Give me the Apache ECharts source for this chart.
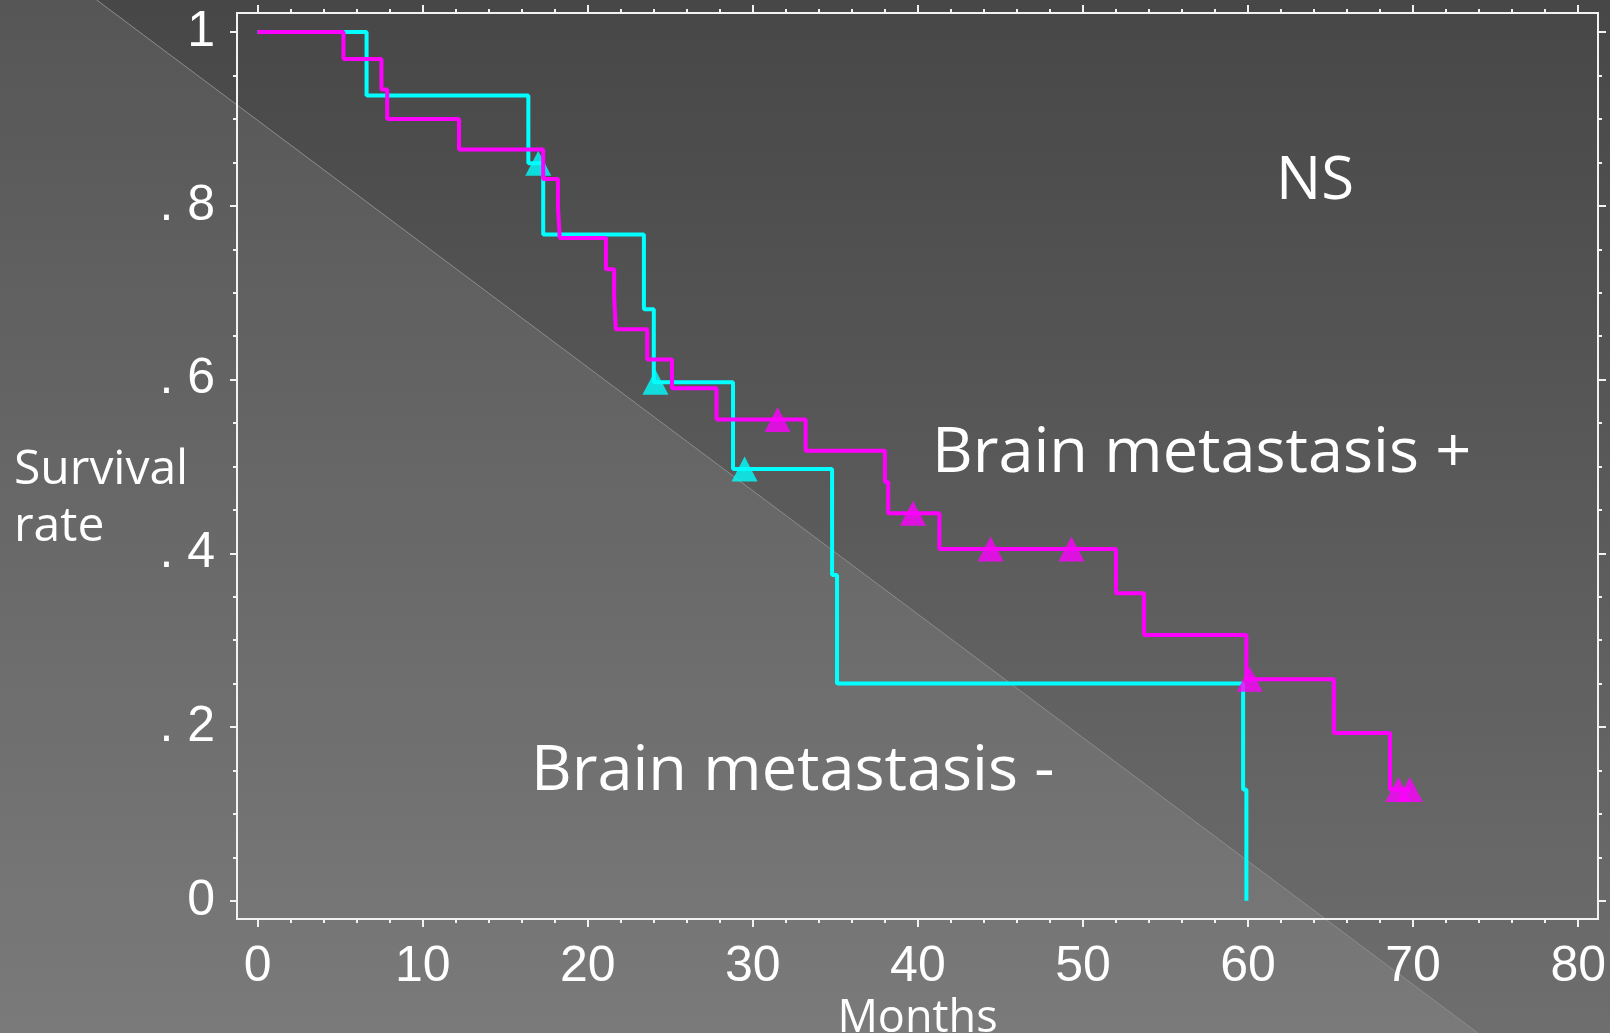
<!DOCTYPE html>
<html>
<head>
<meta charset="utf-8">
<script src="https://cdn.jsdelivr.net/npm/echarts@6/dist/echarts.min.js"></script>
<style>
    html, body { margin: 0; padding: 0; background: #5a5a5a; }
    #chart { width: 1610px; height: 1033px; }
</style>
</head>
<body>
<div id="chart"></div>
<script>
// Brain metastasis - (cyan)
const cyanMonths = [0, 6.6, 16.4, 17.3, 23.4, 24.0, 28.8, 34.8, 35.1, 59.7, 59.9];
const cyanSurvival = [1.0, 0.927, 0.849, 0.767, 0.681, 0.597, 0.497, 0.375, 0.25, 0.128, 0.0];
const cyanCensorMonths = [17.0, 24.1, 29.5];
const cyanCensorSurvival = [0.849, 0.597, 0.497];

// Brain metastasis + (magenta)
const magentaMonths = [0, 5.2, 7.5, 7.85, 12.2, 17.3, 18.2, 18.3, 21.1, 21.6, 21.7, 23.6, 25.1, 27.8, 33.2, 38.0, 38.2, 41.3, 52.0, 53.7, 59.9, 65.2, 68.6, 69.8];
const magentaSurvival = [1.0, 0.969, 0.934, 0.9, 0.865, 0.831, 0.797, 0.763, 0.727, 0.693, 0.658, 0.623, 0.59, 0.554, 0.518, 0.482, 0.446, 0.405, 0.354, 0.306, 0.255, 0.193, 0.128, 0.128];
const magentaCensorMonths = [31.5, 39.7, 44.4, 49.3, 60.1, 69.1, 69.8];
const magentaCensorSurvival = [0.554, 0.446, 0.405, 0.405, 0.255, 0.128, 0.128];

// axes
const xTickValues = [0, 10, 20, 30, 40, 50, 60, 70, 80];
const xMinorValues = [0, 2, 4, 6, 8, 10, 12, 14, 16, 18, 20, 22, 24, 26, 28, 30, 32, 34, 36, 38, 40,
    42, 44, 46, 48, 50, 52, 54, 56, 58, 60, 62, 64, 66, 68, 70, 72, 74, 76, 78, 80];
const yTickValues = [0, 0.2, 0.4, 0.6, 0.8, 1];
const yTickLabels = ['0', '. 2', '. 4', '. 6', '. 8', '1'];
const yMinorValues = [0, 0.05, 0.1, 0.15, 0.2, 0.25, 0.3, 0.35, 0.4, 0.45, 0.5, 0.55, 0.6, 0.65, 0.7, 0.75, 0.8, 0.85, 0.9, 0.95, 1];

const zip = (a, b) => a.map((v, i) => [v, b[i]]);

// condensed face for the tick numbers (font-stretch keyword goes into the font shorthand)
const tickFont = "'Liberation Sans Narrow', 'Liberation Sans', 'DejaVu Sans', sans-serif";
const textFont = "'Open Sans', Lato, sans-serif";
const axisColor = '#f2f2f2';

function xAxisDef(pos, values, len, withLabels) {
    return {
        type: 'value',
        position: pos,
        min: -1.25,
        max: 81.2,
        splitLine: {show: false},
        axisLine: {show: true, onZero: false, lineStyle: {color: axisColor, width: 2}},
        axisTick: {show: true, length: len, customValues: values, lineStyle: {color: axisColor, width: 2}},
        axisLabel: withLabels ? {
            show: true,
            customValues: xTickValues,
            margin: 23,
            color: '#ffffff',
            fontSize: 50,
            fontStyle: 'condensed',
            fontFamily: tickFont
        } : {show: false},
        name: withLabels ? 'Months' : '',
        nameLocation: 'middle',
        nameGap: 75,
        nameTextStyle: {color: '#ffffff', fontSize: 45, fontFamily: textFont}
    };
}

function yAxisDef(pos, values, len, withLabels) {
    return {
        type: 'value',
        position: pos,
        min: -0.021,
        max: 1.022,
        splitLine: {show: false},
        axisLine: {show: true, onZero: false, lineStyle: {color: axisColor, width: 2}},
        axisTick: {show: true, length: len, customValues: values, lineStyle: {color: axisColor, width: 2}},
        axisLabel: withLabels ? {
            show: true,
            customValues: yTickValues,
            margin: 22,
            color: '#ffffff',
            fontSize: 50,
            fontStyle: 'condensed',
            fontFamily: tickFont,
            formatter: function (v) {
                let best = 0;
                yTickValues.forEach((t, i) => {
                    if (Math.abs(t - v) < Math.abs(yTickValues[best] - v)) best = i;
                });
                return yTickLabels[best];
            }
        } : {show: false}
    };
}

const chart = echarts.init(document.getElementById('chart'));
chart.setOption({
    animation: false,
    grid: {left: 237, top: 13, right: 12, bottom: 114, containLabel: false, outerBoundsMode: 'none'},
    graphic: [
        {
            type: 'rect', z: -20, silent: true,
            shape: {x: 0, y: 0, width: 1610, height: 1033},
            style: {fill: new echarts.graphic.LinearGradient(0, 0, 0, 1, [
                {offset: 0, color: '#565656'}, {offset: 1, color: '#7a7a7a'}])}
        },
        {
            type: 'polygon', z: -19, silent: true,
            shape: {points: [[96.7, 0], [1610, 0], [1610, 1033], [1477.8, 1033]]},
            style: {fill: new echarts.graphic.LinearGradient(0, 0, 0, 1, [
                {offset: 0, color: '#474747'}, {offset: 1, color: '#6e6e6e'}])}
        },
        {
            type: 'line', z: -18, silent: true,
            shape: {x1: 96.7, y1: 0, x2: 1477.8, y2: 1033},
            style: {stroke: '#8c8c8c', lineWidth: 1}
        },
        {
            type: 'text', z: 10,
            style: {text: 'NS', x: 1276, y: 182, fill: '#ffffff', fontSize: 60, fontFamily: textFont,
                textAlign: 'left', textVerticalAlign: 'middle'}
        },
        {
            type: 'text', z: 10,
            style: {text: 'Brain metastasis +', x: 932, y: 454, fill: '#ffffff', fontSize: 63, fontFamily: textFont,
                textAlign: 'left', textVerticalAlign: 'middle'}
        },
        {
            type: 'text', z: 10,
            style: {text: 'Brain metastasis -', x: 531, y: 772, fill: '#ffffff', fontSize: 63, fontFamily: textFont,
                textAlign: 'left', textVerticalAlign: 'middle'}
        },
        {
            type: 'text', z: 10,
            style: {text: 'Survival\nrate', x: 14, y: 499, fill: '#ffffff', fontSize: 48, lineHeight: 57,
                fontFamily: textFont, textAlign: 'left', textVerticalAlign: 'middle'}
        }
    ],
    xAxis: [
        xAxisDef('bottom', xTickValues, 8, true),
        xAxisDef('bottom', xMinorValues, 4, false),
        xAxisDef('top', xTickValues, 8, false),
        xAxisDef('top', xMinorValues, 4, false)
    ],
    yAxis: [
        yAxisDef('left', yTickValues, 7, true),
        yAxisDef('left', yMinorValues, 4, false),
        yAxisDef('right', yTickValues, 8, false),
        yAxisDef('right', yMinorValues, 4, false)
    ],
    series: [
        {
            name: 'Brain metastasis -',
            type: 'line',
            step: 'end',
            showSymbol: false,
            data: zip(cyanMonths, cyanSurvival),
            lineStyle: {color: '#00ffff', width: 4},
            z: 2
        },
        {
            name: 'Brain metastasis - censored',
            type: 'scatter',
            symbol: 'triangle',
            symbolSize: [26, 25],
            data: zip(cyanCensorMonths, cyanCensorSurvival),
            itemStyle: {color: '#00ffff'},
            z: 3
        },
        {
            name: 'Brain metastasis +',
            type: 'line',
            step: 'end',
            showSymbol: false,
            data: zip(magentaMonths, magentaSurvival),
            lineStyle: {color: '#ff00ff', width: 4},
            z: 4
        },
        {
            name: 'Brain metastasis + censored',
            type: 'scatter',
            symbol: 'triangle',
            symbolSize: [26, 25],
            data: zip(magentaCensorMonths, magentaCensorSurvival),
            itemStyle: {color: '#ff00ff'},
            z: 5
        }
    ]
});
</script>
</body>
</html>
